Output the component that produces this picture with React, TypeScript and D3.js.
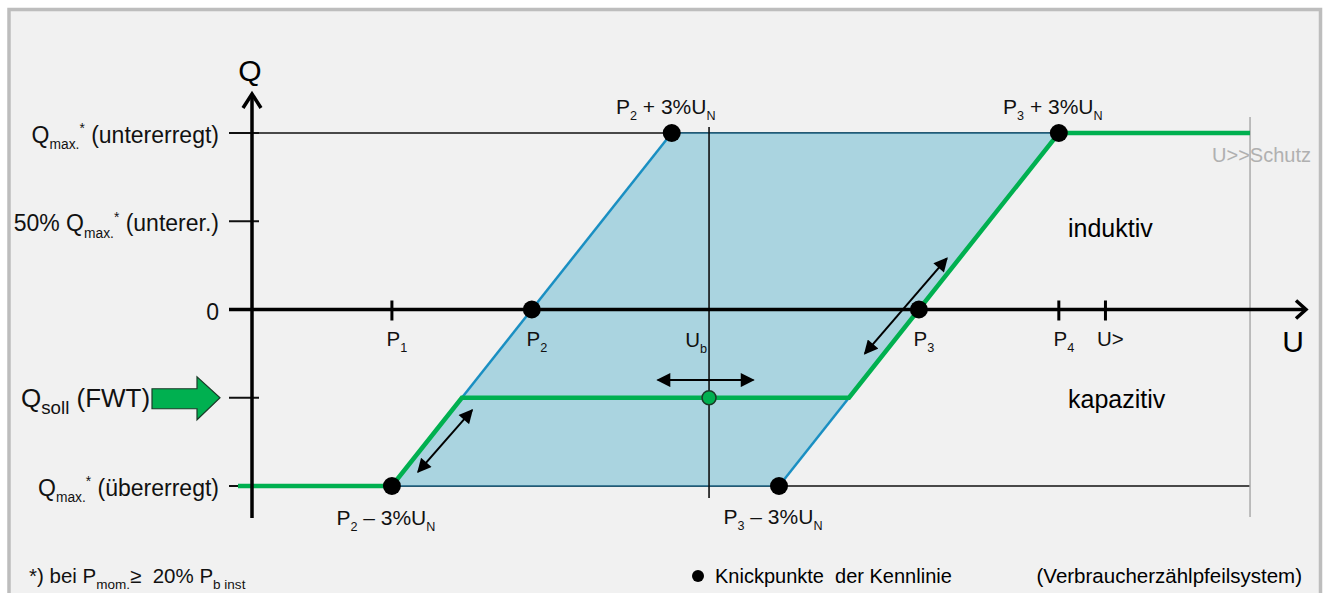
import React from "react";
import * as d3 from "d3";

// Q-U Kennlinie mit Toleranzband (Verbraucherzählpfeilsystem)

// U positions, in % of U_N
const uTickNames = ["P1", "P2", "Ub", "P3", "P4", "U>"];
const uTickValues = [93.2, 96.2, 100, 104.5, 107.5, 108.5];
const uProtection = 111.6; // U>>Schutz
const uLineStart = 89.9;
const bandWidth = 3; // +-3% U_N

// Q levels, in units of Q_max
const qLevels = [1, 0.5, 0, -0.5, -1];
const qSoll = -0.5;

// double arrows (u0, q0, u1, q1)
const shiftArrows = [
  [98.9, -0.4, 100.95, -0.4],
  [93.76, -0.92, 94.92, -0.57],
  [103.34, -0.25, 105.1, 0.29],
];

const GREEN = "#00b050";
const BLUE = "#1a8fc2";
const BLUE_FILL = "#aad4e0";
const FONT = "'Liberation Sans', Arial, sans-serif";

type Seg = [string, "n" | "sub" | "sup"];

const Rich = ({ x, y, segs, size, anchor = "start", fill = "#111", small = 0.62 }:
  { x: number; y: number; segs: Seg[]; size: number; anchor?: string; fill?: string; small?: number }) => {
  let cur = 0;
  return (
    <text x={x} y={y} fontSize={size} textAnchor={anchor} fill={fill} style={{ whiteSpace: "pre" }}>
      {segs.map((s, i) => {
        const target = s[1] === "sub" ? size * 0.28 : s[1] === "sup" ? -size * 0.42 : 0;
        const dy = target - cur;
        cur = target;
        return (
          <tspan key={i} dy={dy} fontSize={s[1] === "n" ? size : size * small}>{s[0]}</tspan>
        );
      })}
    </text>
  );
};

export default function App() {
  const W = 1328, H = 593;
  const x = d3.scaleLinear().domain([90.2, 112.8]).range([252, 1306]);
  const y = d3.scaleLinear().domain([-1, 1]).range([486, 133]);

  const [p1, p2, ub, p3, p4, ugt] = uTickValues;
  const line = d3.line<[number, number]>().x(d => x(d[0])).y(d => y(d[1]));

  const band: [number, number][] = [
    [p2 + bandWidth, 1], [p3 + bandWidth, 1], [p3 - bandWidth, -1], [p2 - bandWidth, -1],
  ];
  const greenLine: [number, number][] = [
    [uLineStart, -1], [p2 - bandWidth, -1],
    [p2 + bandWidth * qSoll, qSoll], [p3 + bandWidth * qSoll, qSoll],
    [p3 + bandWidth, 1], [uProtection, 1],
  ];
  const knicks: [number, number][] = [
    [p2 + bandWidth, 1], [p3 + bandWidth, 1], [p2, 0], [p3, 0], [p2 - bandWidth, -1], [p3 - bandWidth, -1],
  ];

  const axX = x(90.2), axY = y(0);
  const axisLeft = axX - 23;
  const xEnd = x(112.8);

  const yLabels: Seg[][] = [
    [["Q", "n"], ["max.", "sub"], ["*", "sup"], [" (untererregt)", "n"]],
    [["50% Q", "n"], ["max.", "sub"], ["*", "sup"], [" (unterer.)", "n"]],
    [["0", "n"]],
    [],
    [["Q", "n"], ["max.", "sub"], ["*", "sup"], [" (übererregt)", "n"]],
  ];

  const xLabel = (name: string): Seg[] =>
    name === "Ub" ? [["U", "n"], ["b", "sub"]] :
    name === "U>" ? [["U>", "n"]] : [["P", "n"], [name.slice(1), "sub"]];

  const knickLabels: { pos: [number, number]; segs: Seg[]; dy: number }[] = [
    { pos: [p2 + bandWidth, 1], segs: [["P", "n"], ["2", "sub"], [" + 3%U", "n"], ["N", "sub"]], dy: -19 },
    { pos: [p3 + bandWidth, 1], segs: [["P", "n"], ["3", "sub"], [" + 3%U", "n"], ["N", "sub"]], dy: -19 },
    { pos: [p2 - bandWidth, -1], segs: [["P", "n"], ["2", "sub"], [" – 3%U", "n"], ["N", "sub"]], dy: 39 },
    { pos: [p3 - bandWidth, -1], segs: [["P", "n"], ["3", "sub"], [" – 3%U", "n"], ["N", "sub"]], dy: 38 },
  ];

  const qs = y(qSoll);

  return (
    <div style={{ position: "absolute", left: 0, top: 0 }}>
      <svg width={W} height={H} style={{ display: "block", fontFamily: FONT }}>
        <defs>
          <marker id="tri" viewBox="0 0 10 10" refX="9" refY="5" markerWidth="7.5" markerHeight="7"
            orient="auto-start-reverse" markerUnits="strokeWidth">
            <path d="M0,0 L10,5 L0,10 Z" fill="#000" />
          </marker>
        </defs>
        <rect width={W} height={H} fill="#fff" />
        <rect x={9} y={9.5} width={1311.5} height={H + 20} fill="#f1f1f1" stroke="#bdbdbd" strokeWidth={3.5} />

        {/* Q_max reference lines */}
        {[1, -1].map(q => (
          <line key={q} x1={axisLeft} x2={x(uProtection)} y1={y(q)} y2={y(q)} stroke="#111" strokeWidth={1.6} />
        ))}

        {/* tolerance band */}
        <path d={line(band) + "Z"} fill={BLUE_FILL} stroke="none" />
        <path d={line([band[3], band[0]])!} stroke={BLUE} strokeWidth={2.5} fill="none" />
        <path d={line([band[2], band[1]])!} stroke={BLUE} strokeWidth={2.5} fill="none" />
        <path d={line([band[0], band[1]])!} stroke="#1a5f80" strokeWidth={1.6} fill="none" />
        <path d={line([band[3], band[2]])!} stroke="#1a5f80" strokeWidth={1.6} fill="none" />

        {/* U>>Schutz */}
        <line x1={x(uProtection)} x2={x(uProtection)} y1={117} y2={517} stroke="#ababab" strokeWidth={1.5} />
        <text x={x(uProtection) - 38} y={162} fontSize={20} fill="#b0b0b0">U&gt;&gt;Schutz</text>

        {/* U_b line */}
        <line x1={x(ub)} x2={x(ub)} y1={127} y2={498} stroke="#111" strokeWidth={1.6} />

        {/* Y ticks */}
        {qLevels.map(q => (
          <line key={q} x1={axisLeft} x2={axX + 7} y1={y(q)} y2={y(q)} stroke="#111" strokeWidth={2} />
        ))}

        {/* characteristic */}
        <path d={line(greenLine)!} stroke={GREEN} strokeWidth={4.5} fill="none" strokeLinejoin="miter" />

        {/* axes */}
        <line x1={axisLeft} x2={xEnd - 2} y1={axY} y2={axY} stroke="#000" strokeWidth={3.5} />
        <path d={`M${xEnd - 10},${axY - 9} L${xEnd},${axY} L${xEnd - 10},${axY + 9}`} fill="none" stroke="#000" strokeWidth={3.5} />
        <line x1={axX} x2={axX} y1={518} y2={94} stroke="#000" strokeWidth={3.5} />
        <path d={`M${axX - 9},${108} L${axX},${94} L${axX + 9},${108}`} fill="none" stroke="#000" strokeWidth={3.5} />
        {[p1, p4, ugt].map(u => (
          <line key={u} x1={x(u)} x2={x(u)} y1={axY - 9} y2={axY + 11} stroke="#000" strokeWidth={3} />
        ))}
        <text x={axX - 2} y={81} fontSize={30} textAnchor="middle">Q</text>
        <text x={1293} y={352} fontSize={30} textAnchor="middle">U</text>

        {/* X labels */}
        {uTickNames.map((n, i) => (
          n === "Ub"
            ? <Rich key={n} x={x(uTickValues[i]) - 2} y={347} size={20.5} anchor="end" segs={xLabel(n)} />
            : <Rich key={n} x={x(uTickValues[i]) + 5} y={346} size={20.5} anchor="middle" segs={xLabel(n)} />
        ))}

        {/* Y labels */}
        {qLevels.map((q, i) => yLabels[i].length > 0 && (
          <Rich key={q} x={219} y={y(q) + 10} size={23} anchor="end" segs={yLabels[i]} small={0.6} />
        ))}
        <Rich x={21} y={407} size={26} segs={[["Q", "n"], ["soll", "sub"], [" (FWT)", "n"]]} small={0.72} />
        <path d={`M152,${qs - 9} L197,${qs - 9} L197,${qs - 21} L220,${qs} L197,${qs + 22} L197,${qs + 11} L152,${qs + 11} Z`}
          fill={GREEN} stroke="#1b3a28" strokeWidth={1.2} />

        {/* shift arrows */}
        {shiftArrows.map((a, i) => (
          <line key={i} x1={x(a[0])} y1={y(a[1])} x2={x(a[2])} y2={y(a[3])} stroke="#000" strokeWidth={2}
            markerStart="url(#tri)" markerEnd="url(#tri)" />
        ))}

        {/* Knickpunkte */}
        {knicks.map((k, i) => (
          <circle key={i} cx={x(k[0])} cy={y(k[1])} r={9} fill="#000" />
        ))}
        <circle cx={x(ub)} cy={qs} r={7} fill={GREEN} stroke="#1b3a28" strokeWidth={1.5} />
        {knickLabels.map((l, i) => (
          <Rich key={i} x={x(l.pos[0]) - 6} y={y(l.pos[1]) + l.dy} size={21} anchor="middle" segs={l.segs} small={0.6} />
        ))}

        <text x={1068} y={237} fontSize={25}>induktiv</text>
        <text x={1068} y={408} fontSize={25}>kapazitiv</text>

        {/* footer */}
        <Rich x={29} y={583} size={20.5} small={0.66}
          segs={[["*) bei P", "n"], ["mom.", "sub"], ["≥  20% P", "n"], ["b inst", "sub"]]} />
        <circle cx={698} cy={576} r={6} fill="#000" />
        <text x={715} y={583} fontSize={20} style={{ whiteSpace: "pre" }}>Knickpunkte  der Kennlinie</text>
        <text x={1302} y={583} fontSize={20.5} textAnchor="end">(Verbraucherzählpfeilsystem)</text>
      </svg>
    </div>
  );
}
